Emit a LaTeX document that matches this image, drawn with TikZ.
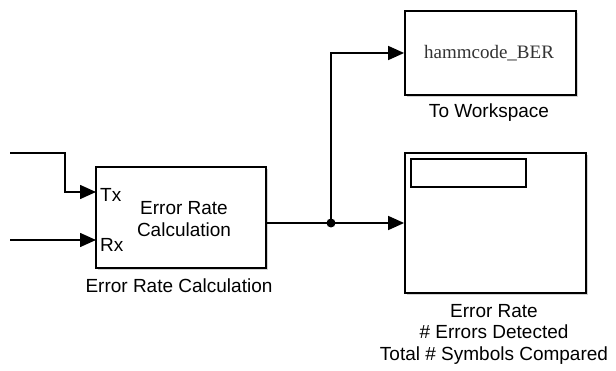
\documentclass[tikz,border=0pt]{standalone}
\usepackage{fontspec}
\setmainfont{Liberation Sans}
\newfontfamily\serifx{Liberation Serif}
\usetikzlibrary{arrows.meta,shadows}
\begin{document}
\begin{tikzpicture}[x=1pt,y=-1pt,
  blk/.style={draw=black,line width=1.8pt,fill=white,rectangle,inner sep=0pt,
    drop shadow={shadow xshift=2pt,shadow yshift=-2pt,opacity=0.35}},
  sig/.style={line width=1.6pt,draw=black},
  arr/.style={sig,-{Triangle[length=16pt,width=14pt]}},
  lbl/.style={font=\fontsize{19}{21.5}\selectfont,inner sep=0pt,align=center},
  jdot/.style={circle,fill=black,inner sep=0pt,minimum size=9pt}]
\useasboundingbox (0,0) rectangle (616,371);
% blocks
\node[blk,minimum width=170pt,minimum height=101pt] (erc) at (181,217.5) {};
\node[blk,minimum width=171pt,minimum height=84pt] (tows) at (490.5,53) {};
\node[blk,minimum width=181pt,minimum height=140pt] (scope) at (495.5,223) {};
\node[draw=black,line width=1.5pt,minimum width=115pt,minimum height=28pt,inner sep=0pt] (disp) at (468.5,173) {};
% block texts
\node[lbl] (ercin) at (184,219) {Error Rate\\Calculation};
\node[lbl,anchor=west] (tx) at (100,195) {Tx};
\node[lbl,anchor=west] (rx) at (100,245) {Rx};
\node[lbl,font=\serifx\fontsize{19}{21}\selectfont,text=black!80] (var) at (489,53) {hammcode\_BER};
% labels
\node[lbl] (erclbl) at (179,286) {Error Rate Calculation};
\node[lbl] (towslbl) at (489,113) {To Workspace};
\node[lbl] (scopelbl) at (494,334) {Error Rate\\\# Errors Detected\\Total \# Symbols Compared};
% coordinates
\coordinate (inTx) at (10,153);
\coordinate (bendTx) at (65,192);
\coordinate (pTx) at (96,192);
\coordinate (inRx) at (10,240);
\coordinate (pRx) at (96,240);
\coordinate (pOut) at (266,223);
\node[jdot] (j) at (331,223) {};
% connectors
\draw[arr] (inTx) -| (bendTx) -- (pTx);
\draw[arr] (inRx) -- (pRx);
\draw[sig] (pOut) -- (j.center);
\draw[arr] (j.center) -- (scope.west);
\draw[arr] (j.center) |- (tows.west);
\end{tikzpicture}
\end{document}
